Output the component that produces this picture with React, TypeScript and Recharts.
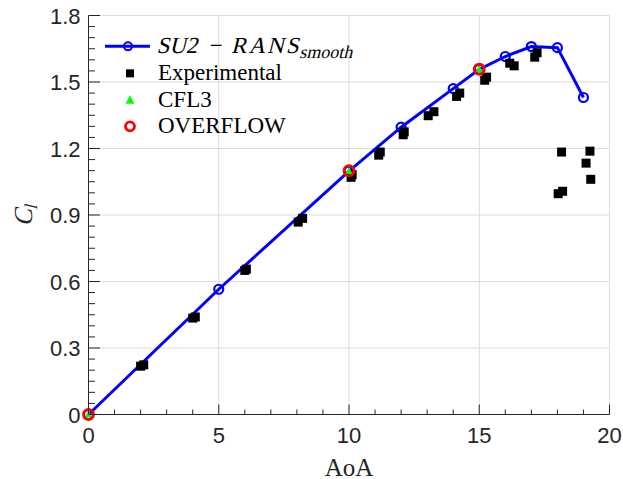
import React from "react";
import { Legend, ReferenceLine, Scatter, ScatterChart, XAxis, YAxis } from "recharts";

// SU2 RANS (smooth) curve
const su2Aoa = [0, 5, 10, 12, 14, 15, 16, 17, 18, 19];
const su2Cl = [0, 0.565, 1.098, 1.296, 1.47, 1.557, 1.615, 1.66, 1.655, 1.43];

// experimental points
const expAoa = [
  2.0, 2.12, 4.0, 4.1, 6.0, 6.06, 8.05, 8.22, 10.08, 10.12, 11.14, 11.2, 12.08, 12.12, 13.04, 13.26, 14.13, 14.25,
  15.21, 15.28, 16.17, 16.34, 17.13, 17.22, 18.03, 18.2, 18.16, 19.1, 19.25, 19.28,
];
const expCl = [
  0.218, 0.224, 0.435, 0.44, 0.65, 0.656, 0.868, 0.885, 1.07, 1.082, 1.17, 1.184, 1.262, 1.275, 1.348, 1.366, 1.435,
  1.45, 1.508, 1.522, 1.585, 1.573, 1.612, 1.632, 0.996, 1.007, 1.184, 1.134, 1.188, 1.061,
];

const cfl3Aoa = [0, 10, 15];
const cfl3Cl = [0, 1.098, 1.557];

const overflowAoa = [0, 10, 15];
const overflowCl = [0, 1.1, 1.558];

// axes
const xMajor = [0, 5, 10, 15, 20];
const xLabels = ["0", "5", "10", "15", "20"];
const yMajor = [0, 0.3, 0.6, 0.9, 1.2, 1.5, 1.8];
const yLabels = ["0", "0.3", "0.6", "0.9", "1.2", "1.5", "1.8"];

const X_SUB = 5;
const Y_SUB = 6;
const xTicks = xMajor.flatMap((v, i) =>
  i === 0 ? [v] : Array.from({ length: X_SUB }, (_, k) => xMajor[i - 1] + ((k + 1) * (v - xMajor[i - 1])) / X_SUB),
);
const yTicks = yMajor.flatMap((v, i) =>
  i === 0 ? [v] : Array.from({ length: Y_SUB }, (_, k) => yMajor[i - 1] + ((k + 1) * (v - yMajor[i - 1])) / Y_SUB),
);

const toPoints = (xs: number[], ys: number[]) => xs.map((x, i) => ({ x, y: ys[i] }));
const su2Data = toPoints(su2Aoa, su2Cl);
const expData = toPoints(expAoa, expCl);
const cfl3Data = toPoints(cfl3Aoa, cfl3Cl);
const overflowData = toPoints(overflowAoa, overflowCl);

const SANS = '"Liberation Sans", Arial, Helvetica, sans-serif';
const SERIF = '"Liberation Serif", "Times New Roman", serif';
const AXIS = "#262626";
const GRID = "#dcdcdc";
const BLUE = "#0000ff";
const GREEN = "#00ff00";
const RED = "#ff0000";

function XTick(props: any) {
  const { x, y, index } = props;
  const major = index % X_SUB === 0;
  return (
    <g>
      <line x1={x} x2={x} y1={y} y2={y - (major ? 10 : 5)} stroke={AXIS} strokeWidth={1} />
      {major && (
        <text x={x} y={y + 28} textAnchor="middle" fontSize={22} fontFamily={SANS} fill={AXIS}>
          {xLabels[index / X_SUB]}
        </text>
      )}
    </g>
  );
}

function YTick(props: any) {
  const { x, y, index } = props;
  const major = index % Y_SUB === 0;
  return (
    <g>
      <line x1={x} x2={x + (major ? 11.5 : 6.5)} y1={y} y2={y} stroke={AXIS} strokeWidth={1} />
      {major && (
        <text x={x - 8} y={y + 8} textAnchor="end" fontSize={22} fontFamily={SANS} fill={AXIS}>
          {yLabels[index / Y_SUB]}
        </text>
      )}
    </g>
  );
}

function XTitle(props: any) {
  const { viewBox } = props;
  return (
    <text x={viewBox.x + viewBox.width / 2} y={viewBox.y + 61} textAnchor="middle" fontSize={25} fontFamily={SERIF} fill={AXIS}>
      AoA
    </text>
  );
}

// math italic is imitated by slanting the upright serif face
function YTitle(props: any) {
  const { viewBox } = props;
  const cy = viewBox.y + viewBox.height / 2;
  return (
    <g transform={`translate(32, ${cy}) rotate(-90) skewX(-14)`}>
      <text x={0} y={0} textAnchor="middle" fill={AXIS} style={{ fontFamily: SERIF, fontStyle: "normal" }}>
        <tspan fontSize={26}>C</tspan>
        <tspan fontSize={18} dy={5}>l</tspan>
      </text>
    </g>
  );
}

const SquareDot = (p: any) => <rect x={p.cx - 4.5} y={p.cy - 4.5} width={9} height={9} fill="#000" />;
const BlueDot = (p: any) => <circle cx={p.cx} cy={p.cy} r={4.5} fill="none" stroke={BLUE} strokeWidth={2.2} />;
const GreenTri = (p: any) => (
  <polygon points={`${p.cx},${p.cy - 4} ${p.cx - 3.8},${p.cy + 2.8} ${p.cx + 3.8},${p.cy + 2.8}`} fill={GREEN} />
);
const RedRing = (p: any) => <circle cx={p.cx} cy={p.cy} r={5} fill="none" stroke={RED} strokeWidth={2.8} />;

const ROW = 26.7;

function LegendIcon({ kind }: { kind: string }) {
  const c = ROW / 2;
  return (
    <svg width={53} height={ROW} style={{ display: "block", flex: "none" }}>
      {kind === "su2" && (
        <>
          <line x1={0} x2={45} y1={c} y2={c} stroke={BLUE} strokeWidth={3} />
          <circle cx={23} cy={c} r={4} fill="none" stroke={BLUE} strokeWidth={2} />
        </>
      )}
      {kind === "exp" && <rect x={21} y={c - 4} width={8} height={8} fill="#000" />}
      {kind === "cfl3" && <polygon points={`25,${c - 5} ${20.5},${c + 3.5} ${29.5},${c + 3.5}`} fill={GREEN} />}
      {kind === "overflow" && <circle cx={25} cy={c} r={4.5} fill="none" stroke={RED} strokeWidth={2.8} />}
    </svg>
  );
}

function LegendBox() {
  const rows = [
    {
      kind: "su2",
      label: (
        <span
          style={{
            display: "inline-block",
            fontFamily: SERIF,
            fontStyle: "normal",
            transform: "skewX(-14deg)",
            transformOrigin: "left center",
          }}
        >
          SU2{"\u2009"} − {"\u2009"}<span style={{ letterSpacing: 2 }}>RANS</span>
          <span style={{ fontSize: 18, position: "relative", top: 5 }}>smooth</span>
        </span>
      ),
    },
    { kind: "exp", label: <span>Experimental</span> },
    { kind: "cfl3", label: <span>CFL3</span> },
    { kind: "overflow", label: <span>OVERFLOW</span> },
  ];
  return (
    <div style={{ fontFamily: SERIF, fontSize: 23, color: "#000" }}>
      {rows.map((r) => (
        <div key={r.kind} style={{ display: "flex", alignItems: "center", height: ROW, lineHeight: `${ROW}px`, whiteSpace: "nowrap" }}>
          <LegendIcon kind={r.kind} />
          {r.label}
        </div>
      ))}
    </div>
  );
}

export default function App() {
  return (
    <div style={{ position: "absolute", left: 0, top: 0, width: 623, height: 479, background: "#fff" }}>
      <ScatterChart width={623} height={479} margin={{ top: 15.5, right: 13.5, bottom: 0, left: 0 }}>
        {xMajor.slice(1).map((v) => (
          <ReferenceLine key={`gx${v}`} x={v} stroke={GRID} strokeWidth={1} />
        ))}
        {yMajor.slice(1).map((v) => (
          <ReferenceLine key={`gy${v}`} y={v} stroke={GRID} strokeWidth={1} />
        ))}
        <XAxis
          type="number"
          dataKey="x"
          domain={[0, 20]}
          ticks={xTicks}
          interval={0}
          height={64.5}
          tickSize={0}
          tickMargin={0}
          tickLine={false}
          tick={<XTick />}
          axisLine={{ stroke: AXIS, strokeWidth: 1 }}
          label={<XTitle />}
        />
        <YAxis
          type="number"
          dataKey="y"
          domain={[0, 1.8]}
          ticks={yTicks}
          interval={0}
          width={88.5}
          tickSize={0}
          tickMargin={0}
          tickLine={false}
          tick={<YTick />}
          axisLine={{ stroke: AXIS, strokeWidth: 1 }}
          label={<YTitle />}
        />
        <Legend
          layout="vertical"
          align="center"
          verticalAlign="middle"
          content={<LegendBox />}
          wrapperStyle={{ left: 105, top: 33.3, width: 280, height: 4 * ROW }}
        />
        <Scatter
          name="SU2"
          data={su2Data}
          line={{ stroke: BLUE, strokeWidth: 3 }}
          lineType="joint"
          shape={BlueDot}
          isAnimationActive={false}
        />
        <Scatter name="Experimental" data={expData} shape={SquareDot} isAnimationActive={false} />
        <Scatter name="CFL3" data={cfl3Data} shape={GreenTri} isAnimationActive={false} />
        <Scatter name="OVERFLOW" data={overflowData} shape={RedRing} isAnimationActive={false} />
      </ScatterChart>
    </div>
  );
}
